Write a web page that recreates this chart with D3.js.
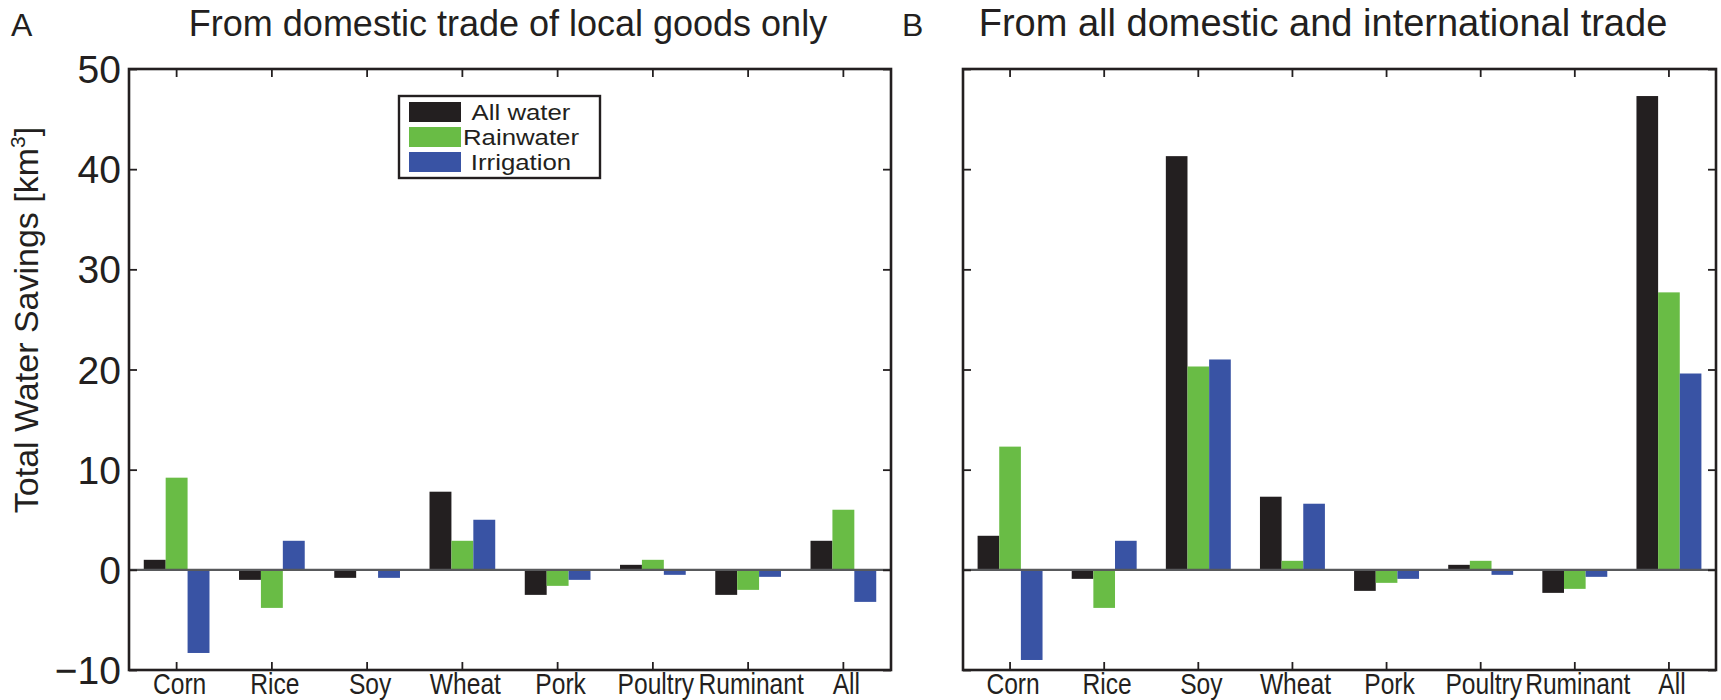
<!DOCTYPE html>
<html>
<head>
<meta charset="utf-8">
<script src="https://cdn.jsdelivr.net/npm/d3@7/dist/d3.min.js"></script>
<style>
  html, body { margin: 0; padding: 0; background: #fff; }
  svg { display: block; }
  text { font-family: "Liberation Sans", Arial, Helvetica, sans-serif; fill: #231f20; }
</style>
</head>
<body>
<svg id="chart" width="1721" height="700"></svg>
<script>
// Crop categories and water types
const categories = ["Corn", "Rice", "Soy", "Wheat", "Pork", "Poultry", "Ruminant", "All"];
const seriesNames = ["All water", "Rainwater", "Irrigation"];
const seriesColors = ["#231f20", "#69bc45", "#3953a4"];

// Panel A: savings from domestic trade of local goods only (km^3)
const localAllWater   = [1.0, -1.0, -0.8, 7.8, -2.5, 0.5, -2.5, 2.9];
const localRainwater  = [9.2, -3.8, -0.1, 2.9, -1.6, 1.0, -2.0, 6.0];
const localIrrigation = [-8.3, 2.9, -0.8, 5.0, -1.0, -0.5, -0.7, -3.2];

// Panel B: savings from all domestic and international trade (km^3)
const tradeAllWater   = [3.4, -0.9, 41.3, 7.3, -2.1, 0.5, -2.3, 47.3];
const tradeRainwater  = [12.3, -3.8, 20.3, 0.9, -1.3, 0.9, -1.9, 27.7];
const tradeIrrigation = [-9.0, 2.9, 21.0, 6.6, -0.9, -0.5, -0.7, 19.6];

const yTicks = [-10, 0, 10, 20, 30, 40, 50];
const yDomain = [-10, 50];

const svg = d3.select("#chart");
const plotTop = 69, plotBottom = 670;
const y = d3.scaleLinear().domain(yDomain).range([plotBottom, plotTop]);

const panels = [
  { letter: "A", title: "From domestic trade of local goods only",
    left: 129, right: 891, titleX: 508, titleSize: 36, letterX: 11, yLabels: true, legend: true,
    data: [localAllWater, localRainwater, localIrrigation] },
  { letter: "B", title: "From all domestic and international trade",
    left: 963, right: 1716, titleX: 1323, titleSize: 38, letterX: 902, yLabels: false, legend: false,
    data: [tradeAllWater, tradeRainwater, tradeIrrigation] }
];

const axisColor = "#231f20";
const tickLen = 8;

panels.forEach(p => {
  const g = svg.append("g");
  const x = d3.scaleBand().domain(categories).range([p.left, p.right]).paddingInner(0).paddingOuter(0);
  const groupW = x.bandwidth() * 0.69;
  const xs = d3.scaleBand().domain(seriesNames).range([-groupW / 2, groupW / 2]).padding(0);

  // bars
  seriesNames.forEach((s, si) => {
    g.append("g").selectAll("rect")
      .data(p.data[si].map((v, i) => ({ cat: categories[i], v })))
      .join("rect")
      .attr("x", d => x(d.cat) + x.bandwidth() / 2 + xs(s))
      .attr("width", xs.bandwidth())
      .attr("y", d => y(Math.max(0, d.v)))
      .attr("height", d => Math.abs(y(d.v) - y(0)))
      .attr("fill", seriesColors[si]);
  });

  // zero baseline
  g.append("line")
    .attr("x1", p.left).attr("x2", p.right)
    .attr("y1", y(0)).attr("y2", y(0))
    .attr("stroke", "#58595b").attr("stroke-width", 2.2);

  // inward ticks on all four sides
  const xAxisBottom = d3.axisBottom(x).tickSize(-tickLen).tickFormat("");
  const xAxisTop = d3.axisTop(x).tickSize(-tickLen).tickFormat("");
  const yAxisLeft = d3.axisLeft(y).tickValues(yTicks).tickSize(-tickLen).tickFormat("");
  const yAxisRight = d3.axisRight(y).tickValues(yTicks).tickSize(-tickLen).tickFormat("");

  [[xAxisBottom, `translate(0,${plotBottom})`], [xAxisTop, `translate(0,${plotTop})`],
   [yAxisLeft, `translate(${p.left},0)`], [yAxisRight, `translate(${p.right},0)`]]
    .forEach(([ax, tr]) => {
      const a = g.append("g").attr("transform", tr).call(ax);
      a.select(".domain").remove();
      a.selectAll(".tick line").attr("stroke", axisColor).attr("stroke-width", 1.8);
    });

  // category labels (narrow, tall lettering)
  g.append("g").selectAll("text")
    .data(categories)
    .join("text")
    .attr("transform", d => `translate(${x(d) + x.bandwidth() / 2 + 3},694) scale(0.82,1)`)
    .attr("text-anchor", "middle")
    .attr("font-size", 30)
    .text(d => d);

  // frame
  g.append("rect")
    .attr("x", p.left).attr("y", plotTop)
    .attr("width", p.right - p.left).attr("height", plotBottom - plotTop)
    .attr("fill", "none").attr("stroke", axisColor).attr("stroke-width", 2.6);

  // y tick labels
  if (p.yLabels) {
    g.append("g").selectAll("text")
      .data(yTicks)
      .join("text")
      .attr("x", p.left - 8)
      .attr("y", d => y(d))
      .attr("dy", "0.36em")
      .attr("text-anchor", "end")
      .attr("font-size", 39)
      .text(d => d3.format("d")(d));
  }

  // title and panel letter
  svg.append("text").attr("x", p.titleX).attr("y", 36)
    .attr("text-anchor", "middle").attr("font-size", p.titleSize).text(p.title);
  svg.append("text").attr("x", p.letterX).attr("y", 36)
    .attr("font-size", 32).text(p.letter);

  // legend (wide lettering, tightly stacked rows)
  if (p.legend) {
    const lg = svg.append("g");
    lg.append("rect").attr("x", 399).attr("y", 96).attr("width", 201).attr("height", 82)
      .attr("fill", "#fff").attr("stroke", axisColor).attr("stroke-width", 2.4);
    seriesNames.forEach((s, i) => {
      const cy = 112 + i * 25;
      lg.append("rect").attr("x", 409).attr("y", cy - 10).attr("width", 52).attr("height", 20)
        .attr("fill", seriesColors[i]);
      lg.append("text").attr("transform", `translate(521,${cy + 8}) scale(1.2,1)`)
        .attr("text-anchor", "middle").attr("font-size", 21.5).text(s);
    });
  }
});

// y axis title
const yt = svg.append("text")
  .attr("transform", "translate(38,320) rotate(-90)")
  .attr("text-anchor", "middle")
  .attr("font-size", 34);
yt.append("tspan").text("Total Water Savings [km");
yt.append("tspan").attr("font-size", 21).attr("dy", -13).text("3");
yt.append("tspan").attr("dy", 13).text("]");
</script>
</body>
</html>
